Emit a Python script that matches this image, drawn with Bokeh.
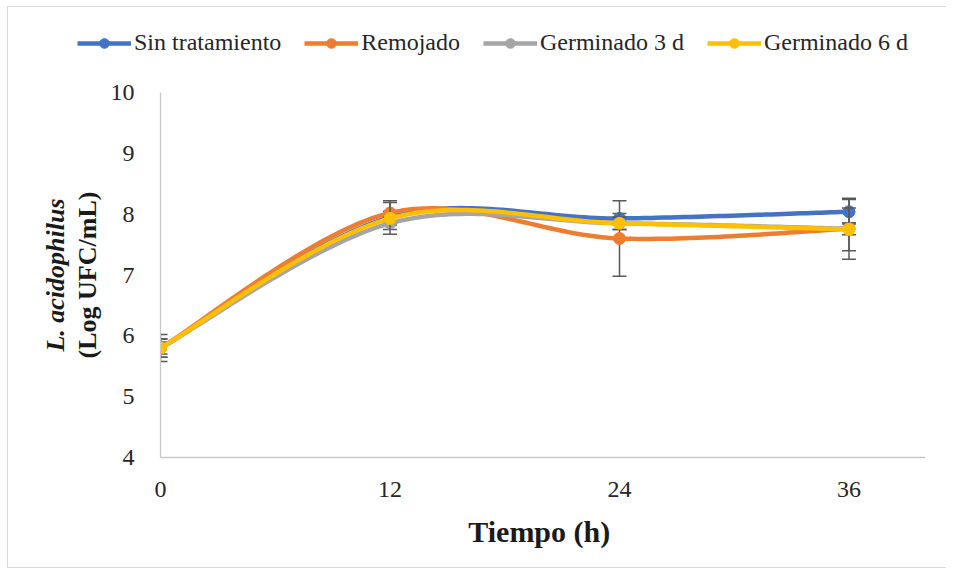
import numpy as np
from bokeh.plotting import figure
from bokeh.layouts import column
from bokeh.models import (Range1d, FixedTicker, LinearAxis, Legend, LegendItem,
                          ColumnDataSource)
from bokeh.embed import file_html
from bokeh.resources import INLINE

# ---- data ----
tiempo = [0, 12, 24, 36]
series_names = ["Sin tratamiento", "Remojado", "Germinado 3 d", "Germinado 6 d"]
sin_tratamiento = [5.80, 7.95, 7.93, 8.04]
remojado = [5.80, 8.02, 7.60, 7.76]
germinado_3d = [5.80, 7.85, 7.85, 7.76]
germinado_6d = [5.80, 7.93, 7.85, 7.75]
err_sin = [0.10, 0.10, 0.08, 0.20]
err_rem = [0.15, 0.20, 0.62, 0.10]
err_g3 = [0.15, 0.10, 0.10, 0.50]
err_g6 = [0.22, 0.26, 0.10, 0.35]
x_ticks = [0, 12, 24, 36]
y_ticks = [4, 5, 6, 7, 8, 9, 10]

colors = ["#4472C4", "#ED7D31", "#A5A5A5", "#FFC000"]
values = [sin_tratamiento, remojado, germinado_3d, germinado_6d]
errors = [err_sin, err_rem, err_g3, err_g6]

SERIF = "Liberation Serif"
LEG_H = 70


def smooth(xs, ys, n=40):
    """Excel-like smoothed line (cubic Bezier through the points)."""
    P = np.column_stack([xs, ys]).astype(float)
    m = len(P)
    out = []
    t = np.linspace(0, 1, n)[:, None]
    for i in range(m - 1):
        p0 = P[max(i - 1, 0)]
        p1 = P[i]
        p2 = P[i + 1]
        p3 = P[min(i + 2, m - 1)]
        c1 = p1 + (p2 - p0) / 6.0
        c2 = p2 - (p3 - p1) / 6.0
        seg = ((1 - t) ** 3) * p1 + 3 * ((1 - t) ** 2) * t * c1 + 3 * (1 - t) * t ** 2 * c2 + t ** 3 * p2
        if i > 0:
            seg = seg[1:]
        out.append(seg)
    arr = np.vstack(out)
    return arr[:, 0], arr[:, 1]


p = figure(width=938, height=560 - LEG_H, output_backend="svg", toolbar_location=None,
           x_range=Range1d(0, 40), y_range=Range1d(4, 10),
           min_border_left=152, min_border_right=21, min_border_top=85 - LEG_H,
           min_border_bottom=110)
p.outline_line_color = None
p.xgrid.visible = False
p.ygrid.visible = False
p.background_fill_color = "white"
p.border_fill_color = "white"

# axes
xa = p.xaxis[0]
xa.ticker = FixedTicker(ticks=x_ticks)
xa.axis_line_color = "#c8c8c8"
xa.axis_line_width = 1.3
xa.major_tick_line_color = None
xa.minor_tick_line_color = None
xa.major_label_text_font = SERIF
xa.major_label_text_font_size = "24px"
xa.major_label_text_color = "#262626"
xa.major_label_standoff = 18
xa.axis_label = "Tiempo  (h)"
xa.axis_label_text_font = SERIF
xa.axis_label_text_font_style = "bold"
xa.axis_label_text_font_size = "30px"
xa.axis_label_text_color = "#1a1a1a"
xa.axis_label_standoff = 15

ya = p.yaxis[0]
ya.ticker = FixedTicker(ticks=y_ticks)
ya.axis_line_color = "#c8c8c8"
ya.axis_line_width = 1.3
ya.major_tick_line_color = None
ya.minor_tick_line_color = None
ya.major_label_text_font = SERIF
ya.major_label_text_font_size = "24px"
ya.major_label_text_color = "#262626"
ya.major_label_standoff = 20
ya.axis_label = "(Log UFC/mL)"
ya.axis_label_text_font = SERIF
ya.axis_label_text_font_style = "bold"
ya.axis_label_text_font_size = "26px"
ya.axis_label_text_color = "#1a1a1a"
ya.axis_label_standoff = 6

ya2 = LinearAxis(ticker=FixedTicker(ticks=[]), axis_line_color=None,
                 major_tick_line_color=None, minor_tick_line_color=None,
                 axis_label="L. acidophilus", axis_label_text_font=SERIF,
                 axis_label_text_font_style="bold italic",
                 axis_label_text_font_size="26px",
                 axis_label_text_color="#1a1a1a", axis_label_standoff=0)
p.add_layout(ya2, "left")

ERR_COLOR = "#595959"
for name, col, ys, es in zip(series_names, colors, values, errors):
    ys = np.array(ys, dtype=float)
    es = np.array(es, dtype=float)
    xs = np.array(tiempo, dtype=float)
    src = ColumnDataSource(dict(x=xs, y=ys, lo=ys - es, hi=ys + es))
    # error bars
    p.segment(x0="x", y0="lo", x1="x", y1="hi", source=src, line_color=ERR_COLOR, line_width=1.5)
    p.scatter(x="x", y="lo", source=src, marker="dash", size=14, line_color=ERR_COLOR, line_width=1.5)
    p.scatter(x="x", y="hi", source=src, marker="dash", size=14, line_color=ERR_COLOR, line_width=1.5)
    # smoothed line
    sx, sy = smooth(xs, ys)
    p.line(sx, sy, line_color=col, line_width=4.5, line_cap="round", line_join="round")
    p.scatter(x="x", y="y", source=src, marker="circle", size=12, fill_color=col, line_color=col)

# ---- legend strip above the chart (its data lie outside its empty view) ----
lf = figure(width=938, height=LEG_H, output_backend="svg", toolbar_location=None,
            x_range=Range1d(100, 101), y_range=Range1d(100, 101),
            x_axis_type=None, y_axis_type=None,
            min_border_left=0, min_border_right=0, min_border_top=0, min_border_bottom=0)
lf.frame_align = False
lf.outline_line_color = None
lf.xgrid.visible = False
lf.ygrid.visible = False
lf.border_fill_color = "white"
items = []
for name, col, ys in zip(series_names, colors, values):
    lr = lf.line(x=tiempo, y=ys, line_color=col, line_width=4.5)
    mr = lf.scatter(x=tiempo, y=ys, marker="circle", size=12, fill_color=col, line_color=col)
    items.append(LegendItem(label=name, renderers=[lr, mr]))

lg = Legend(items=items, location=(69, 21), orientation="horizontal",
            label_text_font=SERIF, label_text_font_size="24px",
            label_text_color="#262626",
            glyph_width=54, glyph_height=24, label_standoff=3, spacing=23,
            padding=0, margin=0, border_line_color=None,
            background_fill_alpha=0)
lf.add_layout(lg)

layout = column(lf, p, spacing=0)
layout.styles = {"border": "1px solid #d9d9d9", "border-right": "none",
                 "margin-left": "7px", "margin-top": "6px"}

open("out.html", "w").write(file_html(layout, INLINE))
